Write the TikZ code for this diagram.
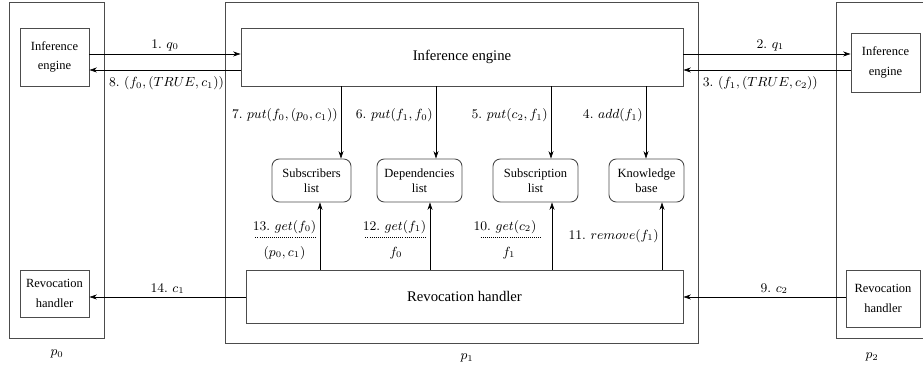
\documentclass[tikz,border=0pt]{standalone}
\usepackage{fontspec}
\newfontfamily\timesfont{Liberation Serif}
\usetikzlibrary{arrows.meta}
\def\px{0.68pt}

\begin{document}
\frenchspacing
\begin{tikzpicture}[x=0.68pt, y=-0.68pt,
		proc/.style={draw=black!70, line width=0.6pt},
		bigbox/.style={draw=black!70, line width=0.6pt, inner sep=0pt, font=\timesfont\fontsize{10}{12}\selectfont},
		peerbox/.style={draw=black!70, line width=0.6pt, inner sep=0pt, align=center, font=\timesfont\fontsize{8.5}{13.5}\selectfont},
		store/.style={draw=black!70, line width=0.6pt, inner sep=0pt, rounded corners=5pt, align=center, font=\timesfont\fontsize{8.5}{10.2}\selectfont},
		msg/.style={-{Stealth[length=5pt, width=3.4pt, inset=1.5pt]}, line width=0.5pt},
		lbl/.style={inner sep=2pt, font=\fontsize{9}{11}\selectfont}]
		%%%%% START %%%%%
		
		\useasboundingbox (0, 0) rectangle (923, 367);
		
		% processes
		\draw[proc] (9, 2) rectangle (104, 338);
		\node[lbl] (p0) at (57, 354) {$p_0$};
		\draw[proc] (225, 2) rectangle (698, 343);
		\node[lbl] (p1) at (467, 358) {$p_1$};
		\draw[proc] (836, 2) rectangle (940, 338);
		\node[lbl] (p2) at (872, 357) {$p_2$};
		
		\node[peerbox, minimum width=69*\px, minimum height=58*\px] (ie0) at (54.5, 57) {Inference\\engine};
		\node[peerbox, minimum width=69*\px, minimum height=47*\px] (rh0) at (54.5, 293.5) {Revocation\\handler};
		\node[peerbox, minimum width=69*\px, minimum height=59*\px] (ie2) at (885.5, 62.5) {Inference\\engine};
		\node[peerbox, minimum width=74*\px, minimum height=57*\px] (rh2) at (883, 298.5) {Revocation\\handler};
		
		\node[bigbox, minimum width=442*\px, minimum height=58*\px] (ie) at (462, 57) {Inference engine};
		\node[bigbox, minimum width=437*\px, minimum height=53*\px] (rh) at (464.5, 296.5) {Revocation handler};
		
		\node[store, minimum width=79*\px, minimum height=43*\px] (subs) at (311.5, 180.5) {Subscribers\\list};
		\node[store, minimum width=85*\px, minimum height=43*\px] (deps) at (419.5, 180.5) {Dependencies\\list};
		\node[store, minimum width=85*\px, minimum height=43*\px] (subn) at (535.5, 180.5) {Subscription\\list};
		\node[store, minimum width=75*\px, minimum height=43*\px] (kb) at (646.5, 180.5) {Knowledge\\base};
		
		% messages between processes
		\draw[msg] (ie0.east |- 0, 54) -- (ie.west |- 0, 54) node[lbl, midway, above] {1. $q_0$};
		\draw[msg] (ie.west |- 0, 70) -- (ie0.east |- 0, 70) node[lbl, pos=0.49, below=2.5pt] {8. $(f_0,(TRUE,c_1))$};
		\draw[msg] (ie.east |- 0, 54) -- (ie2.west |- 0, 54) node[lbl, pos=0.52, above] {2. $q_1$};
		\draw[msg] (ie2.west |- 0, 70) -- (ie.east |- 0, 70) node[lbl, pos=0.54, below=2.5pt] {3. $(f_1,(TRUE,c_2))$};
		\draw[msg] (rh.west |- 0, 297) -- (rh0.east |- 0, 297) node[lbl, midway, above] {14. $c_1$};
		\draw[msg] (rh2.west |- 0, 297) -- (rh.east |- 0, 297) node[lbl, pos=0.44, above] {9. $c_2$};
		
		% inference engine to the stores
		\draw[msg] (ie.south -| 341, 0) -- (subs.north -| 341, 0) node[lbl, pos=0.4, left] {7. $put(f_0,(p_0,c_1))$};
		\draw[msg] (ie.south -| 436, 0) -- (deps.north -| 436, 0) node[lbl, pos=0.4, left] {6. $put(f_1,f_0)$};
		\draw[msg] (ie.south -| 551, 0) -- (subn.north -| 551, 0) node[lbl, pos=0.4, left] {5. $put(c_2,f_1)$};
		\draw[msg] (ie.south -| 646, 0) -- (kb.north -| 646, 0) node[lbl, pos=0.4, left] {4. $add(f_1)$};
		
		% revocation handler to the stores
		\draw[msg] (rh.north -| 320, 0) -- (subs.south -| 320, 0);
		\draw[msg] (rh.north -| 430, 0) -- (deps.south -| 430, 0);
		\draw[msg] (rh.north -| 552, 0) -- (subn.south -| 552, 0);
		\draw[msg] (rh.north -| 662, 0) -- (kb.south -| 662, 0) node[lbl, midway, left] {11. $remove(f_1)$};
		
		\node[lbl] (get13) at (284.5, 227) {13. $get(f_0)$};
		\node[lbl] (ret13) at (284.5, 253) {$(p_0,c_1)$};
		\draw[densely dotted] ([xshift=4pt]get13.south west) -- ([xshift=-2pt]get13.south east);
		\node[lbl] (get12) at (394.5, 227) {12. $get(f_1)$};
		\node[lbl] (ret12) at (396, 253) {$f_0$};
		\draw[densely dotted] ([xshift=4pt]get12.south west) -- ([xshift=-2pt]get12.south east);
		\node[lbl] (get10) at (505, 227) {10. $get(c_2)$};
		\node[lbl] (ret10) at (509, 253) {$f_1$};
		\draw[densely dotted] ([xshift=7pt]get10.south west) -- ([xshift=1pt]get10.south east);
		
		%%%%% END %%%%%
	\end{tikzpicture}
\end{document}
